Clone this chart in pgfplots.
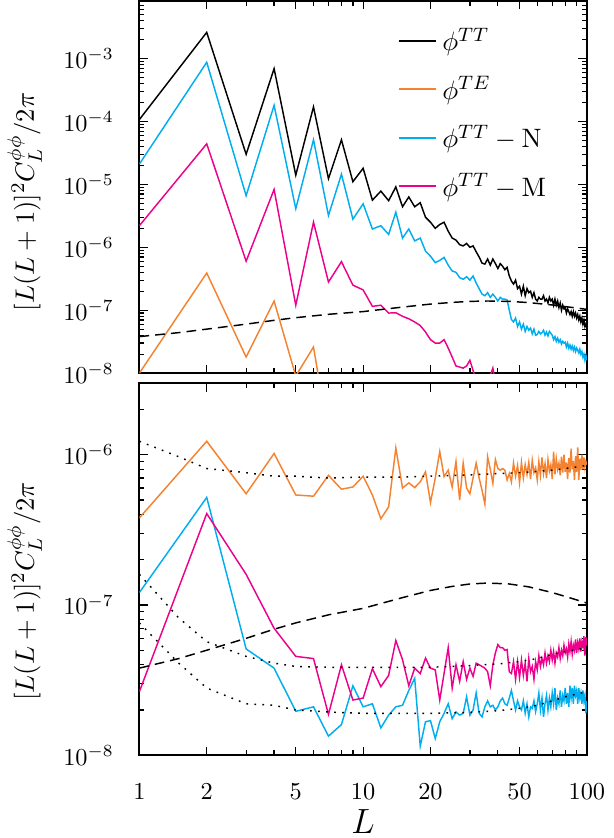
\documentclass[border=0pt]{standalone}
\usepackage{pgfplots}
\usepackage{pgfplotstable}
\pgfplotsset{compat=1.18}

\definecolor{cTE}{RGB}{245,130,48}
\definecolor{cN}{RGB}{0,174,239}
\definecolor{cM}{RGB}{236,0,140}

% top panel: L, phi^TT, phi^TE, phi^TT-N, phi^TT-M
\pgfplotstableread{
L TT TE N M
1 1.07e-4 1.0e-8 2.1e-5 2.2e-6
2 2.6e-3 3.9e-7 8.7e-4 4.4e-5
3 3.0e-5 1.8e-8 6.6e-6 6.0e-7
4 6.9e-4 1.4e-7 1.8e-4 8.3e-6
5 1.4e-5 9e-9 4.1e-6 1.2e-7
6 1.7e-4 2.6e-8 5.1e-5 2.5e-6
7 1.23e-5 1e-9 3.2e-6 2.8e-7
8 5.1e-5 nan 1.45e-5 5.9e-7
9 1.1e-5 nan 2.8e-6 2.5e-7
10 1.8e-5 nan 4.9e-6 2.1e-7
11 5.6e-6 nan 1.95e-6 1.15e-7
12 7.8e-6 nan 2.2e-6 1.2e-7
13 5.5e-6 nan 1.6e-6 9.0e-8
14 9.1e-6 nan 3.6e-6 9.1e-8
15 4.4e-6 nan 1.4e-6 8.0e-8
16 6.3e-6 nan 1.95e-6 7.3e-8
17 4.4e-6 nan 1.26e-6 6.5e-8
18 5.1e-6 nan 1.4e-6 5.7e-8
19 3.0e-6 nan 8.7e-7 4.5e-8
20 2.5e-6 nan 7.2e-7 3.4e-8
21 2.0e-6 nan 5.7e-7 3.0e-8
22 2.3e-6 nan 6.2e-7 3.0e-8
23 2.5e-6 nan 6.9e-7 3.4e-8
24 1.8e-6 nan 5.2e-7 2.5e-8
25 1.4e-6 nan 4.2e-7 1.8e-8
26 1.3e-6 nan 4.0e-7 1.3e-8
27 1.1e-6 nan 3.3e-7 1.25e-8
28 1.05e-6 nan 3.1e-7 1.2e-8
29 1.15e-6 nan 3.4e-7 1.3e-8
30 1.0e-6 nan 3.0e-7 1.6e-8
31 1.05e-6 nan 3.5e-7 1.1e-8
32 8.5e-7 nan 2.7e-7 8e-9
33 7.0e-7 nan 2.2e-7 6e-9
34 5.6e-7 nan 1.8e-7 5e-9
35 5.4e-7 nan 1.7e-7 6e-9
36 6.5e-7 nan 1.9e-7 7e-9
37 5.2e-7 nan 1.6e-7 9e-9
38 6.5e-7 nan 1.8e-7 1.2e-8
39 5.5e-7 nan 1.6e-7 7e-9
40 4.6e-7 nan 1.4e-7 5e-9
41 5.5e-7 nan 1.6e-7 nan
42 5.0e-7 nan 1.5e-7 nan
43 4.4e-7 nan 1.5e-7 nan
44 4.8e-7 nan 1.45e-7 nan
45 3.5e-7 nan 1.0e-7 nan
46 2.9e-7 nan 7.1e-8 nan
47 2.6e-7 nan 6.5e-8 nan
48 3.0e-7 nan 7.5e-8 nan
49 2.2e-7 nan 5.5e-8 nan
50 2.4e-7 nan 6.5e-8 nan
51 1.8e-7 nan 5.0e-8 nan
52 2.4e-7 nan 6.0e-8 nan
53 1.7e-7 nan 4.6e-8 nan
54 2.2e-7 nan 5.5e-8 nan
55 1.9e-7 nan 4.8e-8 nan
56 2.0e-7 nan 5.2e-8 nan
57 1.6e-7 nan 4.2e-8 nan
58 1.9e-7 nan 5.0e-8 nan
59 1.5e-7 nan 4.0e-8 nan
60 1.4e-7 nan 4.1e-8 nan
61 1.6e-7 nan 4.6e-8 nan
62 1.5e-7 nan 4.2e-8 nan
63 1.5e-7 nan 4.4e-8 nan
64 1.7e-7 nan 4.8e-8 nan
65 1.4e-7 nan 4.0e-8 nan
66 1.5e-7 nan 4.5e-8 nan
67 1.3e-7 nan 3.9e-8 nan
68 1.6e-7 nan 4.6e-8 nan
69 1.4e-7 nan 4.3e-8 nan
70 1.5e-7 nan 4.0e-8 nan
71 1.2e-7 nan 3.4e-8 nan
72 1.5e-7 nan 3.8e-8 nan
73 1.2e-7 nan 3.2e-8 nan
74 1.4e-7 nan 3.6e-8 nan
75 1.1e-7 nan 3.1e-8 nan
76 1.3e-7 nan 3.4e-8 nan
77 1.0e-7 nan 2.9e-8 nan
78 1.2e-7 nan 3.2e-8 nan
79 1.05e-7 nan 3.0e-8 nan
80 1.1e-7 nan 3.1e-8 nan
81 9.0e-8 nan 2.6e-8 nan
82 1.05e-7 nan 3.0e-8 nan
83 9.5e-8 nan 2.5e-8 nan
84 8.5e-8 nan 2.8e-8 nan
85 9.5e-8 nan 2.4e-8 nan
86 8.0e-8 nan 2.7e-8 nan
87 9.5e-8 nan 2.3e-8 nan
88 8.0e-8 nan 2.6e-8 nan
89 9.0e-8 nan 2.2e-8 nan
90 7.5e-8 nan 2.5e-8 nan
91 8.5e-8 nan 2.3e-8 nan
92 7.0e-8 nan 2.1e-8 nan
93 8.0e-8 nan 2.4e-8 nan
94 6.5e-8 nan 2.0e-8 nan
95 7.5e-8 nan 2.2e-8 nan
96 6.0e-8 nan 1.8e-8 nan
97 7.0e-8 nan 2.0e-8 nan
98 5.5e-8 nan 1.6e-8 nan
99 6.0e-8 nan 1.9e-8 nan
100 5.2e-8 nan 1.6e-8 nan
}\toptable

% bottom panel: L, phi^TE, phi^TT-N, phi^TT-M
\pgfplotstableread{
L TE N M
1 3.8e-7 1.21e-7 2.65e-8
2 1.23e-6 5.2e-7 4.06e-7
3 5.5e-7 5.1e-8 1.6e-7
4 1.02e-6 3.8e-8 7.0e-8
5 5.4e-7 1.96e-8 4.55e-8
6 5.3e-7 2.1e-8 4.4e-8
7 7.3e-7 1.34e-8 1.87e-8
8 5.9e-7 1.6e-8 4.0e-8
9 6.1e-7 2.9e-8 2.33e-8
10 7.2e-7 2.1e-8 2.4e-8
11 5.4e-7 2.2e-8 3.77e-8
12 3.75e-7 1.52e-8 2.86e-8
13 4.5e-7 1.85e-8 3.4e-8
14 1.11e-6 2.1e-8 5.8e-8
15 6.0e-7 2.15e-8 4.32e-8
16 6.5e-7 2.7e-8 2.9e-8
17 6.05e-7 3.25e-8 3.8e-8
18 6.6e-7 1.15e-8 3.5e-8
19 7.7e-7 1.67e-8 4.43e-8
20 4.8e-7 1.7e-8 3.8e-8
21 7.0e-7 1.29e-8 3.7e-8
22 1.05e-6 1.67e-8 2.33e-8
23 7.15e-7 1.9e-8 3.5e-8
24 7.9e-7 2.2e-8 5.2e-8
25 6.1e-7 1.75e-8 2.8e-8
26 9.0e-7 1.94e-8 4.0e-8
27 5.0e-7 1.85e-8 3.1e-8
28 8.8e-7 1.9e-8 4.2e-8
29 6.0e-7 2.45e-8 3.2e-8
30 5.5e-7 1.85e-8 3.8e-8
31 7.0e-7 2.0e-8 3.35e-8
32 8.8e-7 2.6e-8 4.1e-8
33 7.0e-7 1.9e-8 4.0e-8
34 5.8e-7 1.8e-8 3.9e-8
35 4.7e-7 2.1e-8 3.8e-8
36 9.7e-7 2.3e-8 3.6e-8
37 8.0e-7 2.1e-8 2.9e-8
38 6.45e-7 2.15e-8 4.0e-8
39 9.3e-7 2.0e-8 4.8e-8
40 8.1e-7 2.1e-8 5.45e-8
41 7.9e-7 2.3e-8 5.2e-8
42 8.1e-7 2.4e-8 5.2e-8
43 7.9e-7 2.2e-8 5.0e-8
44 6.8e-7 2.15e-8 5.05e-8
45 7.5e-7 2.4e-8 3.6e-8
46 6.6e-7 2.7e-8 3.5e-8
47 8.8e-7 2.3e-8 4.2e-8
48 7.2e-7 2.0e-8 3.2e-8
49 8.5e-7 2.3e-8 4.2e-8
50 6.5e-7 2.1e-8 3.3e-8
51 8.9e-7 2.0e-8 4.3e-8
52 7.0e-7 2.3e-8 3.4e-8
53 8.6e-7 1.9e-8 4.1e-8
54 7.4e-7 2.2e-8 3.1e-8
55 8.9e-7 1.8e-8 4.4e-8
56 6.9e-7 2.1e-8 3.6e-8
57 9.2e-7 2.05e-8 3.9e-8
58 7.6e-7 2.3e-8 3.2e-8
59 8.2e-7 1.95e-8 4.2e-8
60 6.8e-7 2.2e-8 3.7e-8
61 9.0e-7 2.6e-8 4.6e-8
62 7.3e-7 2.0e-8 3.9e-8
63 9.6e-7 2.4e-8 4.4e-8
64 7.5e-7 1.8e-8 4.0e-8
65 8.7e-7 2.2e-8 4.8e-8
66 7.0e-7 2.5e-8 4.1e-8
67 9.3e-7 2.0e-8 4.6e-8
68 7.8e-7 2.4e-8 4.2e-8
69 8.6e-7 2.1e-8 5.0e-8
70 6.9e-7 2.6e-8 4.3e-8
71 1.05e-6 2.2e-8 4.9e-8
72 7.4e-7 2.8e-8 4.1e-8
73 9.4e-7 2.0e-8 4.8e-8
74 8.0e-7 2.4e-8 4.5e-8
75 8.8e-7 2.2e-8 5.2e-8
76 7.3e-7 2.7e-8 4.4e-8
77 9.7e-7 2.1e-8 5.0e-8
78 7.6e-7 2.5e-8 4.6e-8
79 1.0e-6 2.3e-8 5.4e-8
80 7.7e-7 2.8e-8 4.8e-8
81 8.9e-7 2.2e-8 5.1e-8
82 6.9e-7 2.6e-8 4.5e-8
83 9.5e-7 2.1e-8 5.5e-8
84 7.6e-7 2.9e-8 4.9e-8
85 1.1e-6 2.4e-8 5.7e-8
86 8.0e-7 2.8e-8 4.7e-8
87 9.1e-7 2.2e-8 5.4e-8
88 6.8e-7 2.9e-8 5.0e-8
89 9.8e-7 2.5e-8 5.9e-8
90 7.7e-7 2.7e-8 4.8e-8
91 1.12e-6 2.2e-8 5.6e-8
92 6.8e-7 2.8e-8 5.1e-8
93 9.4e-7 2.4e-8 6.0e-8
94 7.9e-7 2.6e-8 4.9e-8
95 1.0e-6 2.2e-8 5.7e-8
96 8.0e-7 2.7e-8 5.3e-8
97 9.6e-7 2.3e-8 6.2e-8
98 8.2e-7 2.5e-8 4.6e-8
99 9.0e-7 1.9e-8 6.1e-8
100 8.6e-7 2.3e-8 5.4e-8
}\bottable

\begin{document}
\begin{tikzpicture}
\begin{axis}[name=top,
    scale only axis, width=184pt, height=153pt,
    xmode=log, ymode=log, xmin=1, xmax=100,
    xtick={1,2,5,10,20,50,100},
    minor xtick={3,4,6,7,8,9,30,40,60,70,80,90},
    major tick length=3.5pt, minor tick length=2pt,
    every tick/.style={black, line width=0.5pt},
    axis line style={line width=0.8pt},
    yticklabel style={xshift=-7pt},
    xticklabels={},
    ymin=1e-8, ymax=8.2e-3,
    ytick={1e-8,1e-7,1e-6,1e-5,1e-4,1e-3},
    minor ytick={2e-8,3e-8,4e-8,5e-8,6e-8,7e-8,8e-8,9e-8,
      2e-7,3e-7,4e-7,5e-7,6e-7,7e-7,8e-7,9e-7,
      2e-6,3e-6,4e-6,5e-6,6e-6,7e-6,8e-6,9e-6,
      2e-5,3e-5,4e-5,5e-5,6e-5,7e-5,8e-5,9e-5,
      2e-4,3e-4,4e-4,5e-4,6e-4,7e-4,8e-4,9e-4,
      2e-3,3e-3,4e-3,5e-3,6e-3,7e-3,8e-3},
    ylabel={$[L(L+1)]^2C_L^{\phi\phi}/2\pi$},
    ylabel style={at={(axis description cs:-0.217,0.46)},
      anchor=south, inner sep=0pt, font=\fontsize{11}{13}\selectfont},
    legend cell align=left,
    legend style={draw=none, fill=none, at={(0.56,0.955)}, anchor=north west,
      font=\fontsize{11}{13}\selectfont, row sep=5pt},
    legend image code/.code={\draw[#1, line width=0.8pt] (0pt,0.2pt) -- (15.5pt,0.2pt);},
  ]
  \addplot[black, line width=0.6pt] table[x=L, y=TT] {\toptable};
  \addplot[cTE, line width=0.6pt] table[x=L, y=TE] {\toptable};
  \addplot[cN, line width=0.6pt] table[x=L, y=N] {\toptable};
  \addplot[cM, line width=0.6pt] table[x=L, y=M] {\toptable};
  \addplot[black, dash pattern=on 4pt off 2.5pt, line width=0.6pt, forget plot] coordinates {
    (1,3.8e-8) (1.5,4.4e-8) (2,5.0e-8) (3,6.0e-8) (4,6.9e-8) (5,7.6e-8) (7,8.6e-8)
    (10,9.5e-8) (15,1.12e-7) (20,1.25e-7) (25,1.33e-7) (30,1.38e-7) (36,1.40e-7)
    (45,1.38e-7) (55,1.32e-7) (70,1.21e-7) (85,1.11e-7) (100,1.03e-7)};
  \legend{$\phi^{TT}$, $\phi^{TE}$, $\phi^{TT}-\mathrm{N}$, $\phi^{TT}-\mathrm{M}$}
\end{axis}

\begin{axis}[at={(top.south west)}, anchor=north west, yshift=-4.1pt,
    scale only axis, width=184pt, height=153pt,
    xmode=log, ymode=log, xmin=1, xmax=100,
    xtick={1,2,5,10,20,50,100},
    minor xtick={3,4,6,7,8,9,30,40,60,70,80,90},
    major tick length=3.5pt, minor tick length=2pt,
    every tick/.style={black, line width=0.5pt},
    axis line style={line width=0.8pt},
    yticklabel style={xshift=-7pt},
    xticklabel style={yshift=-8pt},
    xticklabels={1,2,5,10,20,50,100},
    ymin=1e-8, ymax=3e-6,
    ytick={1e-8,1e-7,1e-6},
    minor ytick={2e-8,3e-8,4e-8,5e-8,6e-8,7e-8,8e-8,9e-8,
      2e-7,3e-7,4e-7,5e-7,6e-7,7e-7,8e-7,9e-7,2e-6,3e-6},
    xlabel={$L$},
    xlabel style={at={(axis description cs:0.5,0)}, anchor=north,
      yshift=-22pt, inner sep=0pt, font=\Large},
    ylabel={$[L(L+1)]^2C_L^{\phi\phi}/2\pi$},
    ylabel style={at={(axis description cs:-0.217,0.44)},
      anchor=south, inner sep=0pt, font=\fontsize{11}{13}\selectfont},
  ]
  \addplot[cTE, line width=0.6pt] table[x=L, y=TE] {\bottable};
  \addplot[cN, line width=0.6pt] table[x=L, y=N] {\bottable};
  \addplot[cM, line width=0.6pt] table[x=L, y=M] {\bottable};
  \addplot[black, dash pattern=on 4pt off 2.5pt, line width=0.6pt] coordinates {
    (1,3.8e-8) (1.5,4.4e-8) (2,5.0e-8) (3,6.0e-8) (4,6.9e-8) (5,7.6e-8) (7,8.6e-8)
    (10,9.5e-8) (15,1.12e-7) (20,1.25e-7) (25,1.33e-7) (30,1.38e-7) (36,1.40e-7)
    (45,1.38e-7) (55,1.32e-7) (70,1.21e-7) (85,1.11e-7) (100,1.03e-7)};
  \addplot[black, dash pattern=on 0.7pt off 2.6pt, line width=0.6pt] coordinates {
    (1,1.23e-6) (1.5,9.7e-7) (2,8.1e-7) (3,7.6e-7) (4,7.2e-7) (5,7.2e-7) (7,7.0e-7)
    (10,7.1e-7) (15,7.1e-7) (20,7.2e-7) (30,7.35e-7) (40,7.5e-7) (50,7.6e-7)
    (60,7.75e-7) (70,7.9e-7) (80,8.1e-7) (90,8.3e-7) (100,8.5e-7)};
  \addplot[black, dash pattern=on 0.7pt off 2.6pt, line width=0.6pt] coordinates {
    (1,1.6e-7) (1.5,8.2e-8) (2,5.7e-8) (3,4.55e-8) (4,4.1e-8) (5,3.9e-8) (7,3.85e-8)
    (10,3.85e-8) (20,3.85e-8) (30,3.95e-8) (40,4.05e-8) (50,4.2e-8) (60,4.4e-8)
    (70,4.7e-8) (80,4.9e-8) (90,5.05e-8) (100,5.2e-8)};
  \addplot[black, dash pattern=on 0.7pt off 2.6pt, line width=0.6pt] coordinates {
    (1,7.6e-8) (1.5,4.1e-8) (2,2.8e-8) (3,2.2e-8) (4,2.15e-8) (5,2.0e-8) (7,1.94e-8)
    (10,1.9e-8) (20,1.9e-8) (30,1.93e-8) (40,1.98e-8) (50,2.05e-8) (60,2.15e-8)
    (70,2.3e-8) (80,2.45e-8) (90,2.55e-8) (100,2.65e-8)};
\end{axis}
\path ([xshift=-3pt]current bounding box.west);
\path ([yshift=-2pt]current bounding box.south);
\end{tikzpicture}
\end{document}
